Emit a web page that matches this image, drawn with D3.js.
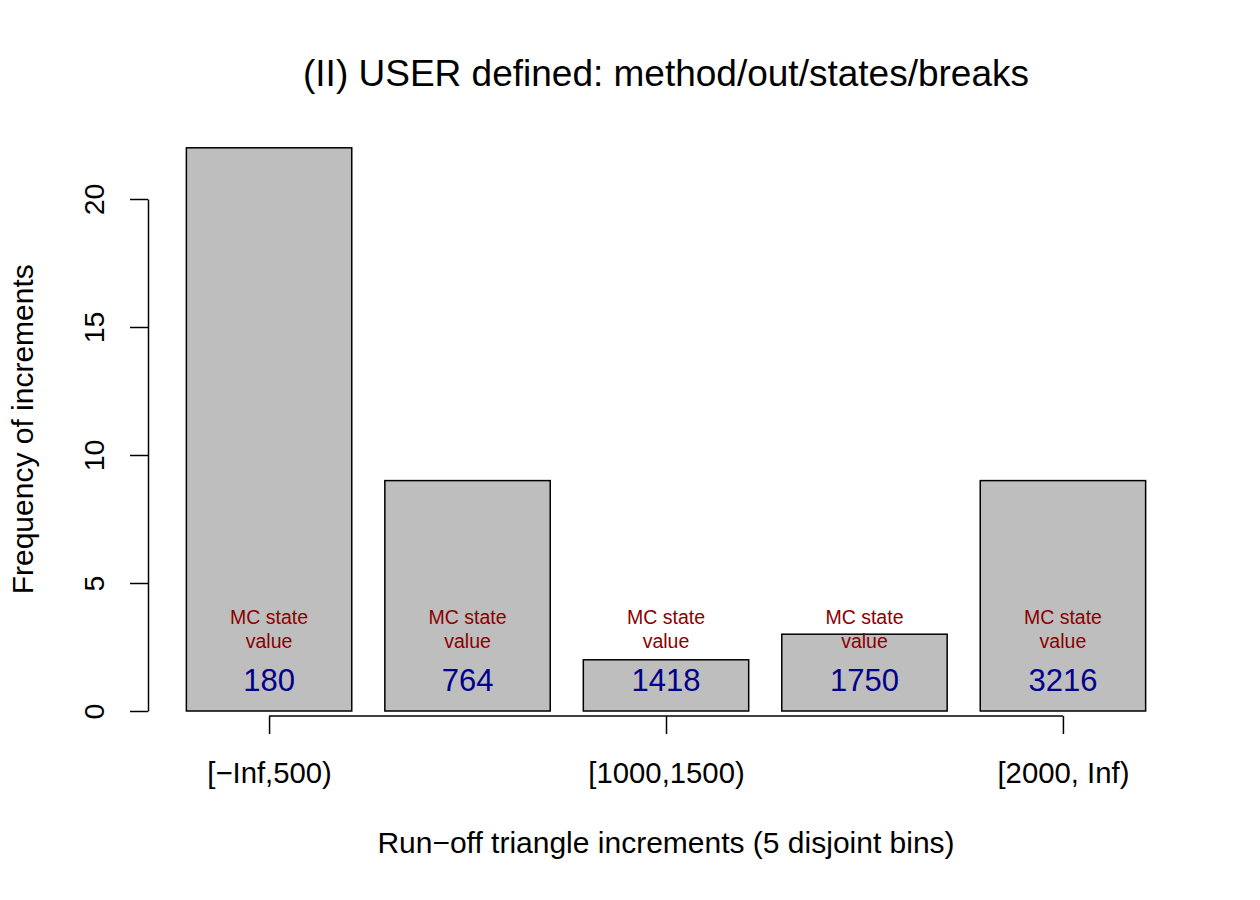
<!DOCTYPE html>
<html>
<head>
<meta charset="utf-8">
<script src="https://cdn.jsdelivr.net/npm/d3@7"></script>
<style>
  body { margin: 0; background: #fff; }
  svg text { font-family: "Liberation Sans", Arial, Helvetica, sans-serif; }
</style>
</head>
<body>
<div id="chart"></div>
<script>

/* Run-off triangle increments barplot
 * Bins of the increments, their counts and the MC state value of each bin.
 */

var binLabels   = ["[\u2212Inf,500)", "[500,1000)", "[1000,1500)", "[1500,2000)", "[2000, Inf)"];
var binCounts   = [22, 9, 2, 3, 9];
var stateValues = [180, 764, 1418, 1750, 3216];
var yTicks      = [0, 5, 10, 15, 20];
var labelledBins = [0, 2, 4];   // R drops the overlapping tick labels

var stateText = ["MC state", "value"];
var stateTextY = 3.2,           // data units, middle of the two line note
    stateValueY = 1.2;

var chartWidth = 1260,
    chartHeight = 900;

// barplot geometry, in R units: width 1, space 0.2
var barWidth = 1,
    barSpace = 0.2;

var svg = d3.select("#chart").append("svg")
    .attr("width", chartWidth)
    .attr("height", chartHeight);

var n = binCounts.length;
var xLo = barSpace,
    xHi = n * (barWidth + barSpace);
var xPad = (xHi - xLo) * 0.04;

var x = d3.scaleLinear()
    .domain([xLo - xPad, xHi + xPad])
    .range([148, 1184]);

var y = d3.scaleLinear()
    .domain([0, 20])
    .range([711, 199]);

var barLeft = function(i) { return barSpace + i * (barWidth + barSpace); };
var barMid  = function(i) { return barLeft(i) + barWidth / 2; };

var bars = binCounts.map(function(c, i) {
    return { label: binLabels[i], count: c, value: stateValues[i], i: i };
});

/* Bars */
svg.append("g").selectAll("rect")
    .data(bars)
    .enter()
    .append("rect")
    .attr("x", function(d) { return x(barLeft(d.i)); })
    .attr("width", function(d) { return x(barLeft(d.i) + barWidth) - x(barLeft(d.i)); })
    .attr("y", function(d) { return y(d.count); })
    .attr("height", function(d) { return y(0) - y(d.count); })
    .style("fill", "#bebebe")
    .style("stroke", "#000")
    .style("stroke-width", 1.5);

/* Notes inside the bars */
var notes = svg.append("g").selectAll("g")
    .data(bars)
    .enter()
    .append("g")
    .attr("transform", function(d) { return "translate(" + x(barMid(d.i)) + ",0)"; });

notes.selectAll("text.note")
    .data(stateText)
    .enter()
    .append("text")
    .attr("class", "note")
    .attr("text-anchor", "middle")
    .attr("y", function(d, j) { return y(stateTextY) + (j - 0.5) * 24 + 7; })
    .style("font-size", "19.5px")
    .style("fill", "#8b0000")
    .text(function(d) { return d; });

notes.append("text")
    .attr("text-anchor", "middle")
    .attr("y", y(stateValueY) + 11)
    .style("font-size", "31px")
    .style("fill", "#00008b")
    .text(function(d) { return d.value; });

/* Y axis */
var yAxis = d3.axisLeft(y)
    .tickValues(yTicks)
    .tickSize(18)
    .tickSizeOuter(0)
    .tickPadding(0);

var gy = svg.append("g")
    .attr("transform", "translate(" + x.range()[0] + ",0)")
    .call(yAxis)
    .attr("font-family", null);

gy.selectAll("path, line").style("stroke", "#000").style("stroke-width", 1.5);
gy.selectAll(".tick text")
    .attr("x", null).attr("dy", null).attr("y", 0)
    .attr("text-anchor", "middle")
    .attr("transform", "translate(-44,0) rotate(-90)")
    .style("font-size", "28.5px")
    .style("fill", "#000");

/* X axis, only the labelled bins */
var xAxis = d3.axisBottom(x)
    .tickValues(labelledBins.map(barMid))
    .tickSize(18)
    .tickSizeOuter(0)
    .tickPadding(0)
    .tickFormat(function(d, i) { return binLabels[labelledBins[i]]; });

var gx = svg.append("g")
    .attr("transform", "translate(0,716)")
    .call(xAxis)
    .attr("font-family", null);

gx.select(".domain").remove();
gx.append("line")
    .attr("x1", x(barMid(0)))
    .attr("x2", x(barMid(n - 1)));
gx.selectAll("line").style("stroke", "#000").style("stroke-width", 1.5);
gx.selectAll(".tick text")
    .attr("y", 67).attr("dy", null)
    .style("font-size", "29.3px")
    .style("fill", "#000");

/* Titles */
svg.append("text")
    .attr("x", (x.range()[0] + x.range()[1]) / 2)
    .attr("y", 86)
    .attr("text-anchor", "middle")
    .style("font-size", "37px")
    .text("(II) USER defined: method/out/states/breaks");

svg.append("text")
    .attr("x", (x.range()[0] + x.range()[1]) / 2)
    .attr("y", 853)
    .attr("text-anchor", "middle")
    .style("font-size", "30px")
    .text("Run\u2212off triangle increments (5 disjoint bins)");

svg.append("text")
    .attr("transform", "translate(33," + ((125 + 733.5) / 2) + ") rotate(-90)")
    .attr("text-anchor", "middle")
    .style("font-size", "30px")
    .text("Frequency of increments");

</script>
</body>
</html>
